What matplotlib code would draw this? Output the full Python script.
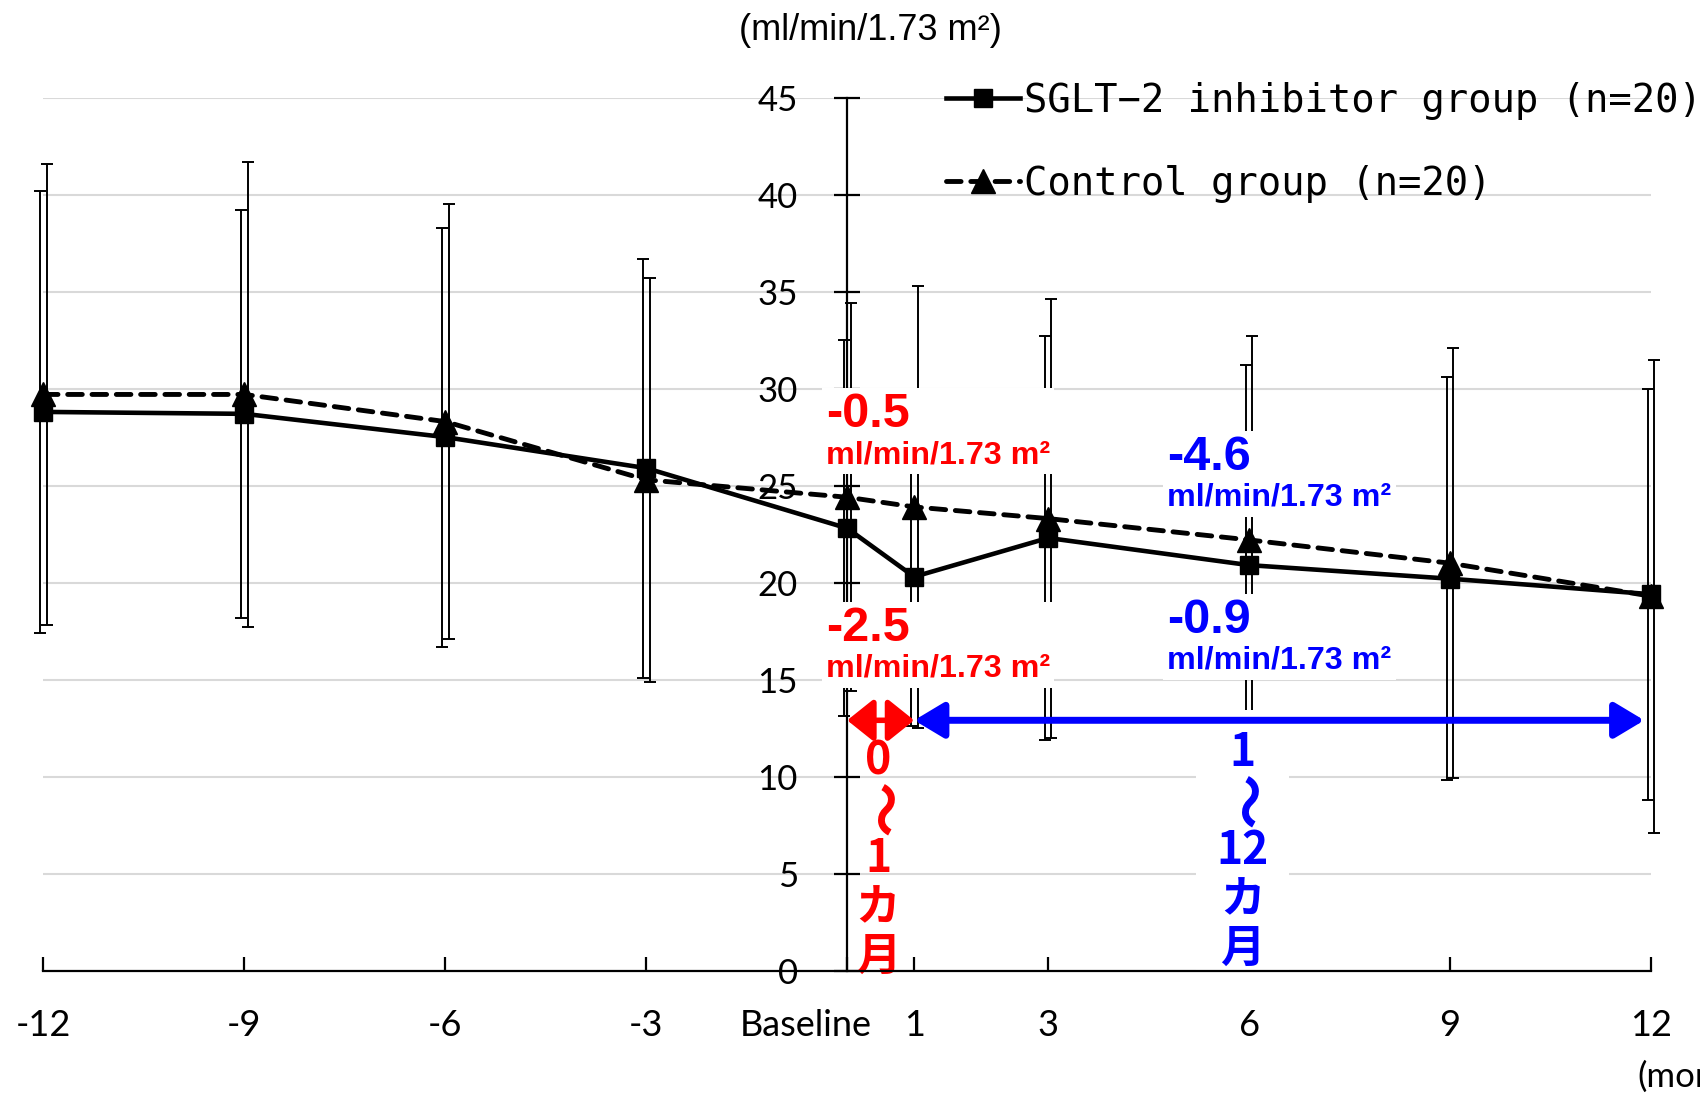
import matplotlib

matplotlib.use("Agg")

import matplotlib.pyplot as plt
from matplotlib import transforms
from matplotlib.offsetbox import AnnotationBbox, TextArea, VPacker
from matplotlib.patches import FancyArrowPatch

# months from baseline and the labels under them
months = [-12, -9, -6, -3, 0, 1, 3, 6, 9, 12]
month_labels = ["-12", "-9", "-6", "-3", "Baseline", "1", "3", "6", "9", "12"]

# eGFR, mean and SD (ml/min/1.73 m2)
sglt_mean = [28.8, 28.7, 27.5, 25.9, 22.8, 20.3, 22.3, 20.9, 20.2, 19.4]
sglt_sd = [11.4, 10.5, 10.8, 10.8, 9.7, 7.7, 10.4, 10.3, 10.4, 10.6]
ctrl_mean = [29.7, 29.7, 28.3, 25.3, 24.4, 23.9, 23.3, 22.2, 21.0, 19.3]
ctrl_sd = [11.9, 12.0, 11.2, 10.4, 10.0, 11.4, 11.3, 10.5, 11.1, 12.2]

y_ticks = [0, 5, 10, 15, 20, 25, 30, 35, 40, 45]

series_names = ["SGLT−2 inhibitor group (n=20)", "Control group (n=20)"]
unit = "ml/min/1.73 m²"
early_changes = ["-0.5", "-2.5"]   # control, SGLT-2 over 0-1 month
late_changes = ["-4.6", "-0.9"]    # control, SGLT-2 over 1-12 months
early_period = ["0", "1", "カ", "月"]
late_period = ["1", "12", "カ", "月"]

TICK_FONT = ["Lato", "DejaVu Sans"]
MONO_FONT = ["DejaVu Sans Mono", "DejaVu Sans"]
PLAIN_FONT = ["Liberation Sans", "DejaVu Sans"]
BOLD_FONT = ["Liberation Sans", "DejaVu Sans"]
CJK_FONT = ["Noto Sans CJK JP", "DejaVu Sans"]

W, H = 1700, 1094
fig = plt.figure(figsize=(W / 100, H / 100), dpi=100)
x0_px, x1_px = 43.4, 1651.0
y0_px, y1_px = 970.5, 97.7
ax = fig.add_axes([x0_px / W, 1 - y0_px / H, (x1_px - x0_px) / W, (y0_px - y1_px) / H])
ax.set_xlim(-12, 12)
ax.set_ylim(0, 45)

# axes: x line at the bottom, y line through Baseline
for side in ("top", "right"):
    ax.spines[side].set_visible(False)
ax.spines["left"].set_position(("data", 0))
ax.spines["left"].set_linewidth(1.6)
ax.spines["bottom"].set_linewidth(1.6)
ax.spines["bottom"].set_zorder(3)

ax.set_yticks(y_ticks)
ax.set_yticklabels([str(v) for v in y_ticks], fontsize=25, family=TICK_FONT)
ax.tick_params(axis="y", direction="inout", length=19, width=1.6, pad=26)
ax.yaxis.grid(True, color="#d9d9d9", linewidth=1.5)
ax.set_axisbelow(True)

ax.set_xticks(months)
ax.set_xticklabels(month_labels, fontsize=26, family=TICK_FONT)
ax.tick_params(axis="x", direction="in", length=10, width=1.6, pad=28)
base_label = ax.get_xticklabels()[months.index(0)]
base_label.set_transform(
    transforms.offset_copy(base_label.get_transform(), fig=fig, x=-41, y=0, units="dots")
)

# error bars, nudged a little apart like the original
dx = 0.05
for xs, mean, sd in (
    ([m - dx for m in months], sglt_mean, sglt_sd),
    ([m + dx for m in months], ctrl_mean, ctrl_sd),
):
    eb = ax.errorbar(xs, mean, yerr=sd, fmt="none", ecolor="black",
                     elinewidth=1.4, capsize=4.5, capthick=1.4, zorder=1.5)
    for art in list(eb.lines[1]) + list(eb.lines[2]):
        art.set_clip_on(False)

ax.plot(months, sglt_mean, color="black", linewidth=3.3, marker="s",
        markersize=13, zorder=4, clip_on=False, label=series_names[0])
ax.plot(months, ctrl_mean, color="black", linewidth=3.5, linestyle=(0, (3.0, 2.0)),
        dash_capstyle="round", marker="^", markersize=17, zorder=4, clip_on=False,
        label=series_names[1])

leg = ax.legend(loc="upper left", bbox_to_anchor=(946 / W, 1 - 82 / H),
                bbox_transform=fig.transFigure, frameon=False,
                prop={"family": MONO_FONT, "size": 28},
                handlelength=1.9, handletextpad=0.1, labelspacing=1.15,
                borderpad=0, borderaxespad=0)

fig.text(870 / W, 1 - 30 / H, "(ml/min/1.73 m²)", ha="center", va="center",
         fontsize=26, family=PLAIN_FONT)
fig.text(1637 / W, 1 - 1077 / H, "(months)", ha="left", va="center",
         fontsize=25, family=TICK_FONT)


def change_box(x, y, value, color):
    big = TextArea(value, textprops=dict(color=color, fontsize=35, fontweight="bold",
                                         family=BOLD_FONT))
    small = TextArea(unit, textprops=dict(color=color, fontsize=23.2, fontweight="bold",
                                          family=BOLD_FONT))
    pack = VPacker(children=[big, small], align="left", pad=0, sep=2)
    box = AnnotationBbox(pack, (x, y), xycoords="data", box_alignment=(0, 0.5),
                         frameon=True, pad=0.3,
                         bboxprops=dict(facecolor="white", edgecolor="none"))
    box.set_zorder(2.8)
    ax.add_artist(box)


change_box(-0.32, 27.8, early_changes[0], "red")
change_box(-0.32, 16.8, early_changes[1], "red")
change_box(4.78, 25.6, late_changes[0], "blue")
change_box(4.78, 17.2, late_changes[1], "blue")

arrow_y = 12.9
ax.add_patch(FancyArrowPatch((0, arrow_y), (1, arrow_y),
                             arrowstyle="<|-|>,head_length=1.0,head_width=0.8",
                             mutation_scale=16, linewidth=4.0, color="red",
                             shrinkA=0, shrinkB=0, zorder=5, clip_on=False))
ax.add_patch(FancyArrowPatch((1, arrow_y), (11.9, arrow_y),
                             arrowstyle="<|-|>,head_length=1.0,head_width=0.6",
                             mutation_scale=18, linewidth=5.0, color="blue",
                             shrinkA=0, shrinkB=0, zorder=5))


def period_column(x, chars, color, top_offset, boxed):
    text = "\n".join([chars[0], ""] + chars[1:])
    kw = dict(xy=(x, arrow_y), textcoords="offset pixels", ha="center", va="top",
              fontsize=32, fontweight="bold", color=color, family=CJK_FONT,
              linespacing=1.08, zorder=2.8)
    if boxed:
        kw["bbox"] = dict(boxstyle="square,pad=0.45", facecolor="white", edgecolor="none")
    ax.annotate(text, xytext=(0, -top_offset), **kw)
    # the wave dash stands upright in vertical writing
    ax.annotate("〜", xy=(x, arrow_y), xytext=(0, -top_offset - 72), textcoords="offset pixels",
                ha="center", va="center", rotation=-90, fontsize=40, fontweight="bold",
                color=color, family=CJK_FONT, zorder=2.9)


period_column(0.46, early_period, "red", 18, False)
period_column(5.9, late_period, "blue", 10, True)

fig.savefig("out.png", dpi=100, facecolor="white")
